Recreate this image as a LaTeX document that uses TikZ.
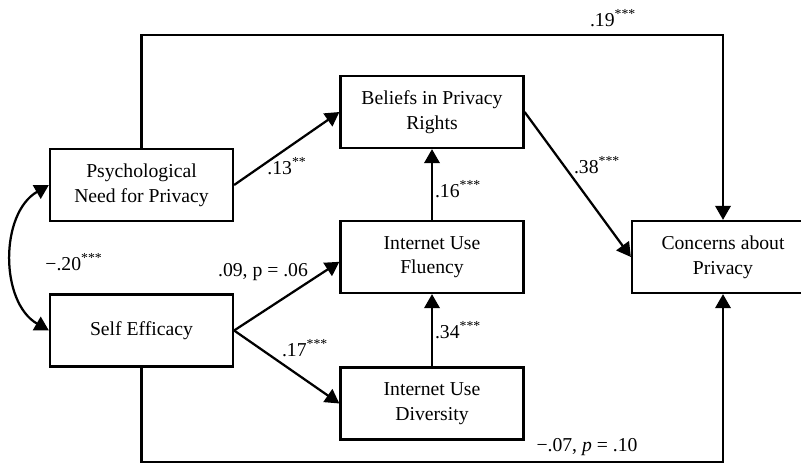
\documentclass[tikz,border=0pt]{standalone}
\usepackage{fontspec}
\setmainfont{Liberation Serif}
\usepackage{tikz}
\usetikzlibrary{arrows.meta,calc}

\begin{document}
\begin{tikzpicture}[
	font=\fontsize{14}{17.5}\selectfont,
	var/.style={draw,line width=1.6pt,minimum width=4.575cm,minimum height=1.8cm,align=center,inner sep=2pt},
	path/.style={line width=1.6pt,-{Triangle[length=10pt,width=11pt]}},
	coef/.style={inner sep=1pt}]
		\useasboundingbox (0,0) rectangle (20.025,11.6);
		% variables
		\node[var] (pnp) at (3.5375,6.975) {Psychological\\Need for Privacy};
		\node[var] (se) at (3.5375,3.3375) {Self Efficacy};
		\node[var] (bel) at (10.8,8.8) {Beliefs in Privacy\\Rights};
		\node[var] (flu) at (10.8,5.175) {Internet Use\\Fluency};
		\node[var] (div) at (10.8,1.5125) {Internet Use\\Diversity};
		\node[var,minimum width=4.55cm] (con) at (18.075,5.175) {Concerns about\\Privacy};
		\coordinate (topline) at (0,10.725);
		\coordinate (botline) at (0,0.05);
		% paths
		\draw[path] (pnp.east) -- (bel.west);
		\draw[path] (se.east) -- ([yshift=-0.12cm]flu.west);
		\draw[path] (se.east) -- (div.west);
		\draw[path] (flu.north) -- (bel.south);
		\draw[path] (div.north) -- (flu.south);
		\draw[path] (bel.east) -- (con.west);
		\draw[path] (pnp.north) -- (pnp.north |- topline) -| (con.north);
		\draw[path] (se.south) -- (se.south |- botline) -| (con.south);
		\draw[path,{Triangle[length=10pt,width=11pt]}-{Triangle[length=10pt,width=11pt]}] (pnp.west) to[bend right=60] (se.west);
		% coefficients
		\node[coef] (c1) at (15.325,11.15) {.19\textsuperscript{***}};
		\node[coef] (c2) at (7.175,7.45) {.13\textsuperscript{**}};
		\node[coef] (c3) at (14.925,7.475) {.38\textsuperscript{***}};
		\node[coef] (c4) at (11.45,6.875) {.16\textsuperscript{***}};
		\node[coef] (c5) at (1.85,5.05) {−.20\textsuperscript{***}};
		\node[coef] (c6) at (6.575,4.8) {.09, p = .06};
		\node[coef] (c7) at (7.625,2.9) {.17\textsuperscript{***}};
		\node[coef] (c8) at (11.45,3.35) {.34\textsuperscript{***}};
		\node[coef] (c9) at (14.675,0.425) {−.07, \textit{p} = .10};
	\end{tikzpicture}
\end{document}
